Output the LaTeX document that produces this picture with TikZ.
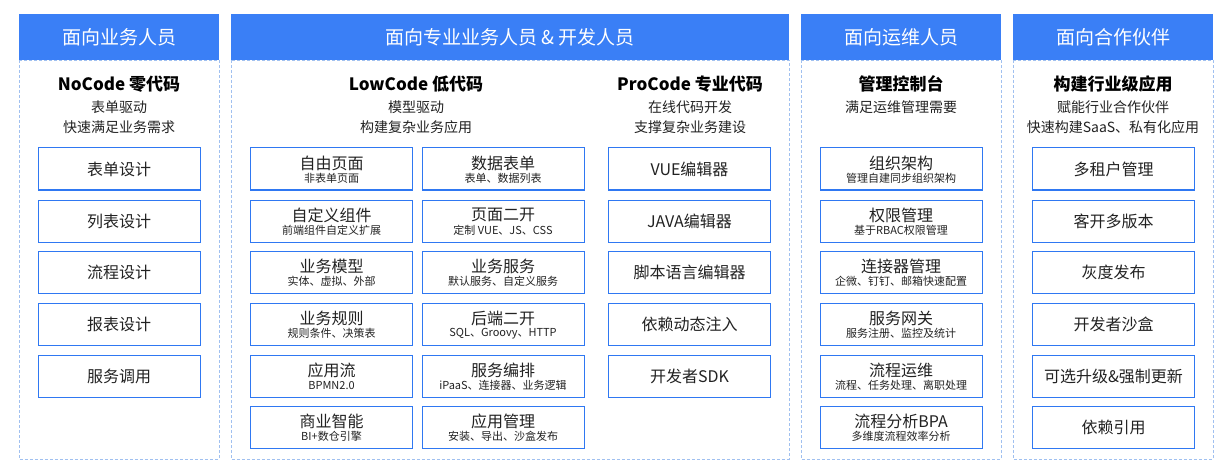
\documentclass[tikz,border=0pt]{standalone}
\usepackage{fontspec}
\setmainfont{Noto Sans CJK SC}
\definecolor{hdrblue}{RGB}{58,127,246}
\definecolor{boxblue}{RGB}{47,120,242}
\definecolor{dashblue}{RGB}{160,192,240}
\definecolor{textgray}{RGB}{34,34,34}
\tikzset{
 hdr/.style={fill=hdrblue, draw=none, text=white, font=\fontsize{19}{22}\selectfont, inner sep=0, minimum height=46pt},
 panel/.style={draw=dashblue, dash pattern=on 3pt off 2pt, line width=0.8pt},
 itembox/.style={draw=boxblue, line width=1pt, minimum width=162pt, minimum height=42pt, inner sep=0, font=\fontsize{16}{18}\selectfont, text=textgray},
 itemmain/.style={font=\fontsize{16}{18}\selectfont, inner sep=0, text=textgray},
 subtxt/.style={font=\fontsize{11}{12}\selectfont, inner sep=0, text=textgray},
 ttl/.style={font=\bfseries\fontsize{17}{20}\selectfont, inner sep=0, text=black},
 stl/.style={font=\fontsize{14}{16}\selectfont, inner sep=0, text=textgray},
}
\newcommand\onebox[4]{\node[itembox] (#1) at (#2,#3) {#4};}
\newcommand\twobox[5]{\node[itembox] (#1) at (#2,#3) {};
 \node[itemmain] (#1m) at ([yshift=6pt]#1.center) {#4};
 \node[subtxt] (#1s) at ([yshift=-9pt]#1.center) {#5};}
\begin{document}
\begin{tikzpicture}[x=1pt,y=-1pt]
\useasboundingbox[fill=white] (0,0) rectangle (1224,468);
% panels
\draw[panel] (19,60) rectangle (219,459);
\draw[panel] (231,60) rectangle (789,459);
\draw[panel] (801,60) rectangle (1001,459);
\draw[panel] (1013,60) rectangle (1213,459);
% headers
\node[hdr, minimum width=200pt] (h1) at (119,37) {面向业务人员};
\node[hdr, minimum width=558pt] (h2) at (510,37) {面向专业业务人员 \& 开发人员};
\node[hdr, minimum width=200pt] (h3) at (901,37) {面向运维人员};
\node[hdr, minimum width=200pt] (h4) at (1113,37) {面向合作伙伴};
% titles
\node[ttl] (t1) at (119,84) {NoCode 零代码};
\node[stl] (t1a) at (119,107) {表单驱动};
\node[stl] (t1b) at (119,127) {快速满足业务需求};
\node[ttl] (t2) at (416,84) {LowCode 低代码};
\node[stl] (t2a) at (416,107) {模型驱动};
\node[stl] (t2b) at (416,127) {构建复杂业务应用};
\node[ttl] (t3) at (690,84) {ProCode 专业代码};
\node[stl] (t3a) at (690,107) {在线代码开发};
\node[stl] (t3b) at (690,127) {支撑复杂业务建设};
\node[ttl] (t4) at (901,84) {管理控制台};
\node[stl] (t4a) at (901,107) {满足运维管理需要};
\node[ttl] (t5) at (1113,84) {构建行业级应用};
\node[stl] (t5a) at (1113,107) {赋能行业合作伙伴};
\node[stl] (t5b) at (1113,127) {快速构建SaaS、私有化应用};
% column 1
\onebox{a1}{119}{169}{表单设计}
\onebox{a2}{119}{221}{列表设计}
\onebox{a3}{119}{272.5}{流程设计}
\onebox{a4}{119}{324.5}{报表设计}
\onebox{a5}{119}{376.5}{服务调用}
% lowcode left
\twobox{b1}{331.5}{169}{自由页面}{非表单页面}
\twobox{b2}{331.5}{221}{自定义组件}{前端组件自定义扩展}
\twobox{b3}{331.5}{272.5}{业务模型}{实体、虚拟、外部}
\twobox{b4}{331.5}{324.5}{业务规则}{规则条件、决策表}
\twobox{b5}{331.5}{376.5}{应用流}{BPMN2.0}
\twobox{b6}{331.5}{427.5}{商业智能}{BI+数仓引擎}
% lowcode right
\twobox{c1}{503}{169}{数据表单}{表单、数据列表}
\twobox{c2}{503}{221}{页面二开}{定制 VUE、JS、CSS}
\twobox{c3}{503}{272.5}{业务服务}{默认服务、自定义服务}
\twobox{c4}{503}{324.5}{后端二开}{SQL、Groovy、HTTP}
\twobox{c5}{503}{376.5}{服务编排}{iPaaS、连接器、业务逻辑}
\twobox{c6}{503}{427.5}{应用管理}{安装、导出、沙盒发布}
% procode
\onebox{d1}{689.5}{169}{VUE编辑器}
\onebox{d2}{689.5}{221}{JAVA编辑器}
\onebox{d3}{689.5}{272.5}{脚本语言编辑器}
\onebox{d4}{689.5}{324.5}{依赖动态注入}
\onebox{d5}{689.5}{376.5}{开发者SDK}
% ops
\twobox{e1}{901}{169}{组织架构}{管理自建同步组织架构}
\twobox{e2}{901}{221}{权限管理}{基于RBAC权限管理}
\twobox{e3}{901}{272.5}{连接器管理}{企微、钉钉、邮箱快速配置}
\twobox{e4}{901}{324.5}{服务网关}{服务注册、监控及统计}
\twobox{e5}{901}{376.5}{流程运维}{流程、任务处理、离职处理}
\twobox{e6}{901}{427.5}{流程分析BPA}{多维度流程效率分析}
% partner
\onebox{f1}{1113.5}{169}{多租户管理}
\onebox{f2}{1113.5}{221}{客开多版本}
\onebox{f3}{1113.5}{272.5}{灰度发布}
\onebox{f4}{1113.5}{324.5}{开发者沙盒}
\onebox{f5}{1113.5}{376.5}{可选升级\&强制更新}
\onebox{f6}{1113.5}{427.5}{依赖引用}
\end{tikzpicture}
\end{document}
